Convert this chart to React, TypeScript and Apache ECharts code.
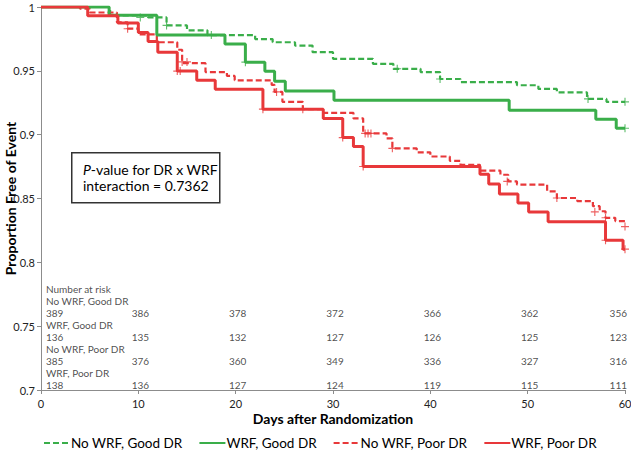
import React, { useEffect, useRef } from "react";
import * as echarts from "echarts";

// ---- Kaplan-Meier step data (day, proportion free of event) ----
const noWrfGoodDays = [0, 7.1, 11.0, 12.9, 15.0, 17.1, 22.0, 23.8, 26.1, 27.9, 30.0, 34.1, 36.2, 39.0, 41.0, 43.1, 48.9, 51.1, 53.0, 56.1, 58.1, 60];
const noWrfGoodVals = [1, 0.9935, 0.9918, 0.9856, 0.9817, 0.978, 0.9749, 0.9724, 0.9698, 0.9646, 0.9594, 0.9555, 0.9516, 0.949, 0.9436, 0.9412, 0.9387, 0.9358, 0.9331, 0.928, 0.9257, 0.9257];

const wrfGoodDays = [0, 7.0, 11.9, 18.9, 21.0, 23.0, 24.0, 25.1, 30.1, 48.1, 57.0, 59.1, 60];
const wrfGoodVals = [1, 0.9936, 0.978, 0.971, 0.9568, 0.9496, 0.9418, 0.9342, 0.927, 0.9192, 0.912, 0.905, 0.905];

const noWrfPoorDays = [0, 4.0, 5.0, 7.8, 8.9, 10.0, 11.9, 14.0, 14.5, 16.9, 19.1, 19.9, 23.7, 24.0, 24.8, 26.9, 29.0, 32.1, 33.1, 35.5, 36.1, 38.6, 40.0, 42.0, 43.1, 45.1, 47.2, 48.0, 48.9, 52.0, 53.0, 55.1, 56.7, 57.4, 58.0, 59.0, 60];
const noWrfPoorVals = [1, 0.9988, 0.9957, 0.988, 0.983, 0.9786, 0.9724, 0.9665, 0.956, 0.949, 0.946, 0.9426, 0.939, 0.9335, 0.9257, 0.92, 0.9171, 0.9127, 0.901, 0.8971, 0.8893, 0.8862, 0.8829, 0.8795, 0.8764, 0.8718, 0.8686, 0.8634, 0.8609, 0.8556, 0.8504, 0.8479, 0.844, 0.84, 0.8349, 0.8323, 0.8323];

const wrfPoorDays = [0, 4.8, 7.9, 10.0, 11.0, 12.0, 14.0, 16.0, 17.9, 22.8, 29.0, 31.0, 32.1, 33.1, 45.1, 46.0, 47.1, 49.0, 50.1, 52.1, 58.0, 59.8, 60];
const wrfPoorVals = [1, 0.9931, 0.9874, 0.98, 0.9729, 0.9646, 0.9498, 0.9426, 0.9356, 0.92, 0.9127, 0.8977, 0.8907, 0.8751, 0.869, 0.8613, 0.8535, 0.8465, 0.8395, 0.8318, 0.8173, 0.8103, 0.8103];

// ---- censoring marks ----
const noWrfGoodCensorDays = [10.2, 12.9, 17.5, 36.6, 41.0, 56.2, 60];
const noWrfGoodCensorVals = [0.9918, 0.9856, 0.978, 0.9516, 0.9436, 0.928, 0.9257];
const wrfGoodCensorDays = [21.0, 60];
const wrfGoodCensorVals = [0.9568, 0.905];
const noWrfPoorCensorDays = [8.9, 14.5, 15.0, 24.2, 33.3, 33.6, 33.9, 36.1, 47.9, 53.0, 56.9, 58.0, 60];
const noWrfPoorCensorVals = [0.983, 0.957, 0.957, 0.9335, 0.901, 0.901, 0.901, 0.8893, 0.8634, 0.8504, 0.8395, 0.8349, 0.828];
const wrfPoorCensorDays = [14.0, 14.3, 22.8, 26.9, 31.0, 33.1, 58.0, 60];
const wrfPoorCensorVals = [0.9498, 0.9498, 0.92, 0.92, 0.8977, 0.8751, 0.8173, 0.8103];

// ---- number at risk ----
const riskDays = [0, 10, 20, 30, 40, 50, 60];
const groupNames = ["No WRF, Good DR", "WRF, Good DR", "No WRF, Poor DR", "WRF, Poor DR"];
const riskNoWrfGood = [389, 386, 378, 372, 366, 362, 356];
const riskWrfGood = [136, 135, 132, 127, 126, 125, 123];
const riskNoWrfPoor = [385, 376, 360, 349, 336, 327, 316];
const riskWrfPoor = [138, 136, 127, 124, 119, 115, 111];
const riskTitle = "Number at risk";

const GREEN = "#3aae4a";
const RED = "#e8383a";
const FONT = "Lato, 'Open Sans', sans-serif";

const zip = (a: number[], b: number[]) => a.map((d, i) => [d, b[i]]);
const PLUS = "path://M4.3,0h1.4v10h-1.4zM0,4.3h10v1.4h-10z";

export default function App() {
  const ref = useRef<HTMLDivElement>(null);
  useEffect(() => {
    if (!ref.current) return;
    const chart = echarts.init(ref.current, undefined, { renderer: "svg" });

    const riskRows = [riskNoWrfGood, riskWrfGood, riskNoWrfPoor, riskWrfPoor];
    // layout (data-space rows for the table): one text line = 12px
    const titleY = 0.779;
    const lineStep = 0.0094;

    const tableData: any[] = [];
    tableData.push({
      value: [0, titleY],
      label: { formatter: riskTitle, align: "left", offset: [5, 0] },
    });
    riskRows.forEach((row, g) => {
      const ly = titleY - (2 * g + 1) * lineStep;
      const ny = titleY - (2 * g + 2) * lineStep;
      tableData.push({
        value: [0, ly],
        label: { formatter: groupNames[g], align: "left", offset: [5, 0] },
      });
      row.forEach((n, i) => {
        const isFirst = i === 0;
        const isLast = i === riskDays.length - 1;
        tableData.push({
          value: [riskDays[i], ny],
          label: {
            formatter: String(n),
            align: isFirst ? "left" : isLast ? "right" : "center",
            offset: isFirst ? [5, 0] : [2, 0],
          },
        });
      });
    });

    const stepLine = (name: string, days: number[], vals: number[], color: string, dashed: boolean) => ({
      name,
      type: "line",
      step: "end",
      symbol: "none",
      showSymbol: false,
      data: zip(days, vals),
      lineStyle: dashed
        ? { color, width: 2.2, type: [6, 3] }
        : { color, width: 3, type: "solid" },
      itemStyle: { color },
      z: dashed ? 2 : 3,
    });
    const censor = (days: number[], vals: number[], color: string) => ({
      type: "scatter",
      symbol: PLUS,
      symbolSize: 8,
      itemStyle: { color },
      data: zip(days, vals),
      silent: true,
      z: 4,
    });

    chart.setOption({
      animation: false,
      textStyle: { fontFamily: FONT },
      grid: { left: 41, right: 6, top: 7, bottom: 61, outerBoundsMode: "none", containLabel: false },
      xAxis: {
        type: "value",
        min: 0,
        max: 60,
        interval: 10,
        name: "Days after Randomization",
        nameLocation: "middle",
        nameGap: 21,
        nameMoveOverlap: false,
        nameTextStyle: { fontWeight: "bold", fontSize: 14, color: "#000", fontFamily: FONT },
        axisLine: { lineStyle: { color: "#8c8c8c", width: 1 } },
        axisTick: { show: true, length: 4, lineStyle: { color: "#8c8c8c" } },
        axisLabel: { fontSize: 11, color: "#222", margin: 8, fontFamily: FONT },
        splitLine: { show: false },
      },
      yAxis: {
        type: "value",
        min: 0.7,
        max: 1,
        interval: 0.05,
        name: "Proportion Free of Event",
        nameLocation: "middle",
        nameGap: 24,
        nameMoveOverlap: false,
        nameTextStyle: { fontWeight: "bold", fontSize: 14, color: "#000", fontFamily: FONT },
        axisLine: { show: true, lineStyle: { color: "#8c8c8c", width: 1 } },
        axisTick: { show: true, length: 4, lineStyle: { color: "#8c8c8c" } },
        axisLabel: {
          fontSize: 11,
          color: "#222",
          margin: 6,
          fontFamily: FONT,
          formatter: (v: number) => String(Math.round(v * 100) / 100),
        },
        splitLine: { show: false },
      },
      legend: {
        data: groupNames,
        top: 431,
        left: 38,
        itemWidth: 26,
        itemHeight: 10,
        itemGap: 16,
        itemStyle: { opacity: 0, borderWidth: 0 },
        textStyle: { fontSize: 13.5, color: "#000", fontFamily: FONT, padding: [0, 0, 0, -4] },
      },
      graphic: [
        {
          type: "rect",
          left: 71,
          top: 152,
          shape: { width: 148, height: 50 },
          style: { fill: "#fff", stroke: "#333", lineWidth: 1.5 },
          z: 10,
        },
        {
          type: "text",
          left: 83,
          top: 161,
          z: 11,
          style: {
            text: "{i|P}-value for DR x WRF\ninteraction = 0.7362",
            fontSize: 14,
            lineHeight: 16,
            fill: "#000",
            fontFamily: FONT,
            rich: {
              i: { fontStyle: "italic", fontSize: 14, fontFamily: FONT, fill: "#000" },
            },
          },
        },
      ],
      series: [
        stepLine(groupNames[0], noWrfGoodDays, noWrfGoodVals, GREEN, true),
        stepLine(groupNames[1], wrfGoodDays, wrfGoodVals, GREEN, false),
        stepLine(groupNames[2], noWrfPoorDays, noWrfPoorVals, RED, true),
        stepLine(groupNames[3], wrfPoorDays, wrfPoorVals, RED, false),
        censor(noWrfGoodCensorDays, noWrfGoodCensorVals, GREEN),
        censor(wrfGoodCensorDays, wrfGoodCensorVals, GREEN),
        censor(noWrfPoorCensorDays, noWrfPoorCensorVals, RED),
        censor(wrfPoorCensorDays, wrfPoorCensorVals, RED),
        {
          type: "scatter",
          symbolSize: 0,
          silent: true,
          data: tableData,
          label: {
            show: true,
            position: "inside",
            fontSize: 10,
            lineHeight: 11,
            color: "#222",
            fontFamily: FONT,
          },
          z: 5,
        },
      ],
    });
    return () => chart.dispose();
  }, []);
  return <div ref={ref} style={{ width: 631, height: 451, position: "absolute", left: 0, top: 0 }} />;
}
